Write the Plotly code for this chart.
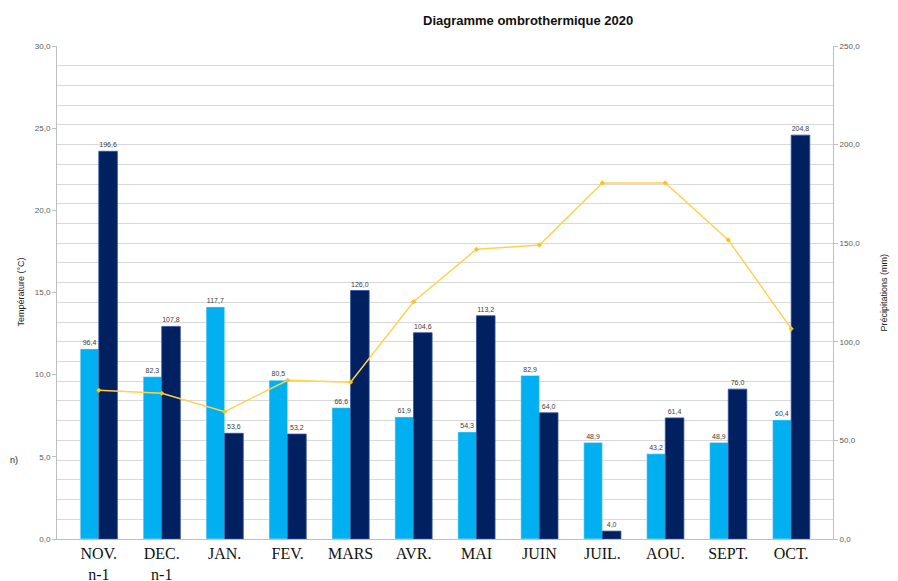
import plotly.graph_objects as go

months = ["NOV.<br>n-1", "DEC.<br>n-1", "JAN.", "FEV.", "MARS", "AVR.", "MAI", "JUIN", "JUIL.", "AOU.", "SEPT.", "OCT."]
precip_light = [96.4, 82.3, 117.7, 80.5, 66.6, 61.9, 54.3, 82.9, 48.9, 43.2, 48.9, 60.4]
precip_dark = [196.6, 107.8, 53.6, 53.2, 126.0, 104.6, 113.2, 64.0, 4.0, 61.4, 76.0, 204.8]
temperature = [9.05, 8.87, 7.75, 9.66, 9.54, 14.44, 17.63, 17.89, 21.67, 21.67, 18.2, 12.8]

def fmt(v):
    return f"{v:.1f}".replace(".", ",")

fig = go.Figure()
fig.add_trace(go.Bar(
    x=months, y=precip_light, yaxis="y", marker=dict(color="#00B0F0"),
    text=[fmt(v) for v in precip_light], textposition="outside",
    textfont=dict(size=7, color="#404040", family="Liberation Sans"),
    cliponaxis=False, name="P1"))
fig.add_trace(go.Bar(
    x=months, y=precip_dark, yaxis="y", marker=dict(color="#002060", line=dict(color="#2F4F9F", width=0.8)),
    text=[fmt(v) for v in precip_dark], textposition="outside",
    textfont=dict(size=7, color="#404040", family="Liberation Sans"),
    cliponaxis=False, name="P2"))
fig.add_trace(go.Scatter(
    x=months, y=temperature, yaxis="y2", mode="lines+markers",
    line=dict(color="#FFD24D", width=1.5),
    marker=dict(color="#F5C518", size=4, symbol="diamond"),
    name="T"))

fig.update_layout(
    width=882, height=573,
    paper_bgcolor="white", plot_bgcolor="white",
    margin=dict(l=49, r=57, t=38, b=42, autoexpand=False),
    showlegend=False,
    separators=", ",
    barmode="group", bargap=0.41, bargroupgap=0,
    font=dict(family="Liberation Sans", color="#595959"),
    xaxis=dict(
        showline=True, linecolor="#BFBFBF", linewidth=1,
        tickfont=dict(family="Liberation Serif", size=16, color="#111111"),
        ticks="", showgrid=False, automargin=False,
    ),
    yaxis=dict(
        side="right", range=[0, 250], dtick=50, tickformat=".1f",
        showline=True, linecolor="#BFBFBF", linewidth=1,
        ticks="outside", ticklen=4, tickcolor="#BFBFBF",
        showgrid=True, gridcolor="#D9D9D9", gridwidth=1,
        minor=dict(dtick=10, showgrid=True, gridcolor="#D9D9D9", gridwidth=1),
        tickfont=dict(size=8, color="#595959"),
        zeroline=False, automargin=False,
    ),
    yaxis2=dict(
        overlaying="y", side="left", range=[0, 30], dtick=5, tickformat=".1f",
        showline=True, linecolor="#BFBFBF", linewidth=1,
        ticks="outside", ticklen=4, tickcolor="#BFBFBF",
        showgrid=False, zeroline=False,
        tickfont=dict(size=8, color="#595959"), automargin=False,
    ),
)

fig.add_annotation(
    text="<b>Diagramme ombrothermique 2020</b>", xref="paper", yref="paper",
    x=0.607, y=1.0, yshift=26, showarrow=False, xanchor="center", yanchor="middle",
    font=dict(size=13, color="#111111", family="Liberation Sans"))
fig.add_annotation(
    text="Température (°C)", xref="paper", yref="paper", x=-0.0476, y=0.5,
    textangle=-90, showarrow=False, xanchor="center", yanchor="middle",
    font=dict(size=9, color="#222222"))
fig.add_annotation(
    text="Précipitations (mm)", xref="paper", yref="paper", x=1.0657, y=0.5,
    textangle=-90, showarrow=False, xanchor="center", yanchor="middle",
    font=dict(size=9, color="#222222"))
fig.add_annotation(
    text="n)", xref="paper", yref="paper", x=-0.063, y=0.16, showarrow=False,
    xanchor="left", yanchor="middle", font=dict(size=9, color="#222222"))

fig.write_html("out.html")
